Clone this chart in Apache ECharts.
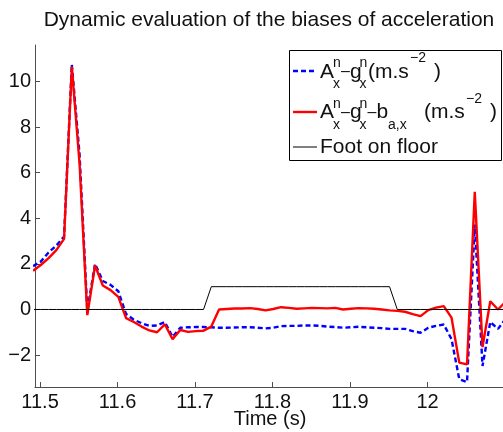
<!DOCTYPE html>
<html><head><meta charset="utf-8">
<script src="https://cdn.jsdelivr.net/npm/echarts@6/dist/echarts.min.js"></script>
<style>html,body{margin:0;padding:0;background:#fff}#c{width:503px;height:432px}</style>
</head><body><div id="c"></div>
<script>
const time = [11.491, 11.501, 11.511, 11.521, 11.531, 11.541, 11.551, 11.561, 11.571, 11.581,
  11.591, 11.601, 11.611, 11.621, 11.631, 11.641, 11.651, 11.661, 11.671, 11.681,
  11.691, 11.701, 11.711, 11.721, 11.731, 11.741, 11.751, 11.761, 11.771, 11.781,
  11.791, 11.801, 11.811, 11.821, 11.831, 11.841, 11.851, 11.861, 11.871, 11.881,
  11.891, 11.901, 11.911, 11.921, 11.931, 11.941, 11.951, 11.961, 11.971, 11.981,
  11.991, 12.001, 12.011, 12.021, 12.031, 12.041, 12.051, 12.061, 12.071, 12.081,
  12.091, 12.101];
const accMinusG = [1.9, 2.1, 2.5, 2.8, 3.2, 10.75, 6.8, -0.05, 2.0, 1.25,
  1.08, 0.8, -0.2, -0.45, -0.6, -0.72, -0.7, -0.55, -1.2, -0.8,
  -0.78, -0.77, -0.77, -0.78, -0.8, -0.8, -0.79, -0.78, -0.78, -0.8,
  -0.83, -0.8, -0.73, -0.72, -0.72, -0.7, -0.7, -0.72, -0.75, -0.77,
  -0.8, -0.78, -0.76, -0.78, -0.8, -0.82, -0.85, -0.85, -0.85, -0.95,
  -1.02, -0.8, -0.72, -0.66, -1.3, -3.06, -3.18, 3.72, -2.48, -0.55,
  -0.85, -0.4];
const accMinusGMinusBias = [1.7, 1.95, 2.25, 2.6, 3.1, 10.65, 6.4, -0.25, 1.93, 1.05,
  0.85, 0.55, -0.38, -0.55, -0.75, -0.92, -1.0, -0.65, -1.3, -0.9,
  -0.98, -0.95, -0.93, -0.75, 0.0, 0.02, 0.04, 0.04, 0.06, 0.02,
  -0.04, 0.02, 0.1, 0.07, 0.03, 0.05, 0.07, 0.06, 0.05, 0.07,
  0.0, 0.03, 0.06, 0.05, 0.03, 0.0, -0.04, -0.06, -0.1, -0.2,
  -0.29, -0.03, 0.08, 0.15, -0.36, -2.33, -2.41, 5.16, -1.65, 0.36,
  0.0, 0.35];
const footOnFloor = [0, 0, 0, 0, 0, 0, 0, 0, 0, 0,
  0, 0, 0, 0, 0, 0, 0, 0, 0, 0,
  0, 0, 0, 1, 1, 1, 1, 1, 1, 1,
  1, 1, 1, 1, 1, 1, 1, 1, 1, 1,
  1, 1, 1, 1, 1, 1, 1, 0, 0, 0,
  0, 0, 0, 0, 0, 0, 0, 0, 0, 0,
  0, 0];
const xTicks = [11.5, 11.6, 11.7, 11.8, 11.9, 12];
const yTicks = [-2, 0, 2, 4, 6, 8, 10];
const titleText = 'Dynamic evaluation of the biases of acceleration';
const xName = 'Time (s)';

const FONT = '"Liberation Sans", Arial, Helvetica, sans-serif';
const pairs = v => time.map((t, i) => [t, v[i]]);
const fmt = v => String(v).replace('-', '\u2212');

const chart = echarts.init(document.getElementById('c'), null, {renderer: 'canvas'});

function txt(x, y, s, size) {
  return {type: 'text', x: x, y: y, silent: true,
    style: {text: s, font: size + 'px ' + FONT, fill: '#111', align: 'left', verticalAlign: 'middle'}};
}
const M = 21, S = 14, D = 16;
const legendEls = [
  {type: 'rect', shape: {x: 289.5, y: 50.5, width: 212, height: 110},
   style: {fill: '#fff', stroke: '#000', lineWidth: 1}},
  {type: 'line', shape: {x1: 293, y1: 71, x2: 317, y2: 71},
   style: {stroke: '#0000ff', lineWidth: 2.4, lineDash: [5, 3]}},
  txt(320, 72, 'A', M), txt(333, 63.5, 'n', S), txt(333, 84.5, 'x', S),
  txt(341, 72, '\u2013', D), txt(350, 72, 'g', M), txt(359.5, 63.5, 'n', S), txt(359.5, 84.5, 'x', S),
  txt(368, 72, '(m.s', M), txt(410, 58, '\u22122', S), txt(434, 72, ')', M),
  {type: 'line', shape: {x1: 293, y1: 112, x2: 317, y2: 112},
   style: {stroke: '#ff0000', lineWidth: 2.4}},
  txt(320, 112.5, 'A', M), txt(333, 104, 'n', S), txt(333, 125, 'x', S),
  txt(341, 112.5, '\u2013', D), txt(350, 112.5, 'g', M), txt(359.5, 104, 'n', S), txt(359.5, 125, 'x', S),
  txt(367.5, 112.5, '\u2013', D), txt(376.5, 112.5, 'b', M), txt(388, 125, 'a,x', S),
  txt(424, 112.5, '(m.s', M), txt(466, 99, '\u22122', S), txt(490, 112.5, ')', M),
  {type: 'line', shape: {x1: 293, y1: 147, x2: 317, y2: 147},
   style: {stroke: '#000', lineWidth: 1}},
  txt(320, 147, 'Foot on floor', M),
  {type: 'text', x: 269, y: 20, silent: true,
   style: {text: titleText, font: '21px ' + FONT, fill: '#111', align: 'center', verticalAlign: 'middle'}}
];

const axisCol = '#4d4d4d';
chart.setOption({
  animation: false,
  backgroundColor: '#fff',
  grid: {left: 35, top: 45, width: 470, height: 342, containLabel: false, outerBoundsMode: 'none'},
  xAxis: {
    type: 'value', min: 11.4935, max: 12.1,
    name: xName, nameLocation: 'middle', nameGap: 22, nameMoveOverlap: false,
    nameTextStyle: {fontFamily: FONT, fontSize: 20, color: '#111'},
    axisLine: {show: true, onZero: false, lineStyle: {color: axisCol, width: 1}},
    axisTick: {show: true, inside: true, length: 5, customValues: xTicks, lineStyle: {color: axisCol}},
    axisLabel: {customValues: xTicks, margin: 5, fontFamily: FONT, fontSize: 20, color: '#111',
      formatter: v => fmt(v)},
    splitLine: {show: false}
  },
  yAxis: {
    type: 'value', min: -3.4, max: 11.6,
    axisLine: {show: true, onZero: false, lineStyle: {color: axisCol, width: 1}},
    axisTick: {show: true, inside: true, length: 5, customValues: yTicks, lineStyle: {color: axisCol}},
    axisLabel: {customValues: yTicks, margin: 4, fontFamily: FONT, fontSize: 20, color: '#111',
      formatter: v => fmt(v)},
    splitLine: {show: false}
  },
  series: [
    {name: 'Ax-gx', type: 'line', data: pairs(accMinusG), symbol: 'none', z: 2,
     lineStyle: {color: '#0000ff', width: 2.4, type: [5, 3]}},
    {name: 'Ax-gx-bax', type: 'line', data: pairs(accMinusGMinusBias), symbol: 'none', z: 3,
     lineStyle: {color: '#ff0000', width: 2.4}},
    {name: 'Foot on floor', type: 'line', data: pairs(footOnFloor), symbol: 'none', z: 4,
     lineStyle: {color: '#000000', width: 1}}
  ],
  graphic: legendEls
});
</script></body></html>
